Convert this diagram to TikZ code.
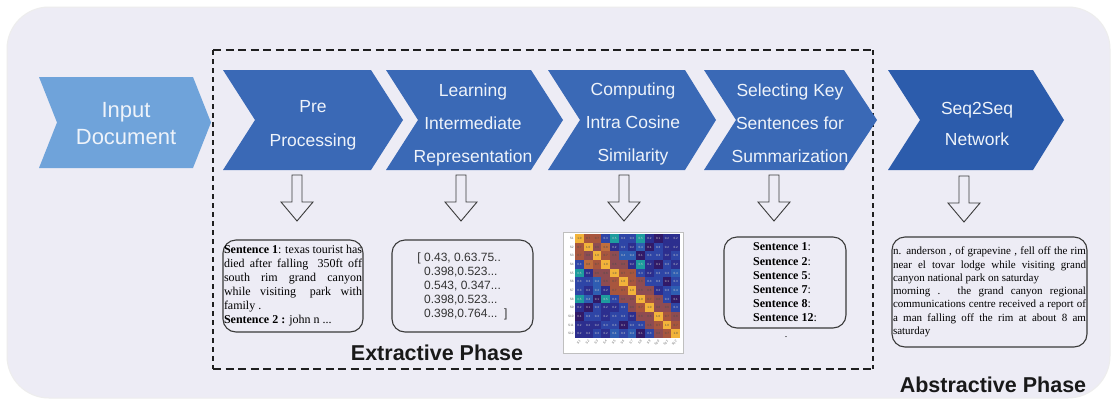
\documentclass[tikz,border=0pt]{standalone}
\usepackage{fontspec}
\newfontfamily\lsans{Liberation Sans}
\newfontfamily\lserif{Liberation Serif}
\definecolor{bgcol}{HTML}{EDECF5}
\definecolor{inputblue}{HTML}{6FA3DA}
\definecolor{chevblue}{HTML}{3A69B6}
\definecolor{seqblue}{HTML}{2C5CAC}
\definecolor{chevtxt}{HTML}{EEF3FA}
\definecolor{edge}{HTML}{3A3A3A}
\definecolor{hm0}{HTML}{2A1250}
\definecolor{hm1}{HTML}{311A68}
\definecolor{hm2}{HTML}{2C2E8E}
\definecolor{hm3}{HTML}{2E45A6}
\definecolor{hm4}{HTML}{2E5DB2}
\definecolor{hm5}{HTML}{1E9C9E}
\definecolor{hm6}{HTML}{8E4C52}
\definecolor{hm7}{HTML}{A8563E}
\definecolor{hm8}{HTML}{C06E3C}
\definecolor{hm9}{HTML}{D88A38}
\definecolor{hm10}{HTML}{F2B33A}
\begin{document}
\begin{tikzpicture}[x=1pt,y=-1pt,
  chevtext/.style={font=\lsans\fontsize{17.5}{33}\selectfont, text=chevtxt, align=center, inner sep=0},
  arrowline/.style={draw=edge, line width=0.9pt, fill=bgcol},
  textbox/.style={draw=edge, line width=1.1pt, rounded corners=13pt, inner sep=0, align=left},
  phase/.style={font=\lsans\bfseries\fontsize{21.5}{24}\selectfont, text=black!90, inner sep=0},
  cellnum/.style={font=\lsans\fontsize{3}{3}\selectfont, inner sep=0},
  ticklab/.style={font=\lsans\fontsize{3.2}{3.2}\selectfont, text=black!60, inner sep=0.6pt},
  pics/downarrow/.style={code={
    \path[arrowline] (-5,0) -- (5,0) -- (5,27) -- (16,27) -- (0,46) -- (-16,27) -- (-5,27) -- cycle;}}
]
\useasboundingbox (0,0) rectangle (1112,400);
\fill[white] (0,0) rectangle (1112,400);
% rounded panel behind everything
\path[fill=bgcol, draw=black!7, line width=1pt, rounded corners=42pt] (7,7) rectangle (1110,398);

% extractive phase frame
\begin{scope}[draw=black!88, line width=1.7pt]
  \draw[dash pattern=on 8pt off 4.5pt] (213,50) -- (873,50);
  \draw[dash pattern=on 8pt off 4.5pt] (213,369) -- (873,369);
  \draw[dash pattern=on 5pt off 4pt] (213,50) -- (213,369);
  \draw[dash pattern=on 5pt off 4pt] (873,50) -- (873,369);
\end{scope}

% process chevrons
\fill[inputblue] (39,77) -- (193,77) -- (211,122.5) -- (193,168) -- (39,168) -- (57,122.5) -- cycle;
\fill[chevblue] (223,70) -- (371,70) -- (403,120) -- (371,170) -- (223,170) -- (255,120) -- cycle;
\fill[chevblue] (386,70) -- (531,70) -- (563,120) -- (531,170) -- (386,170) -- (418,120) -- cycle;
\fill[chevblue] (548,70) -- (685,70) -- (716,120) -- (685,170) -- (548,170) -- (580,120) -- cycle;
\fill[chevblue] (704,70) -- (844,70) -- (877,120) -- (844,170) -- (704,170) -- (736,120) -- cycle;
\fill[seqblue] (888,70) -- (1033,70) -- (1064,120) -- (1033,170) -- (888,170) -- (920,120) -- cycle;

\node[chevtext, font=\lsans\fontsize{22}{27}\selectfont] (input) at (126,123.6) {Input\\Document};
\node[chevtext, font=\lsans\fontsize{17.5}{34}\selectfont] (pre) at (313,125.6) {Pre\\Processing};
\node[chevtext] (learn) at (473,124.6) {Learning\\Intermediate\\Representation};
\node[chevtext] (cosine) at (633,123.5) {Computing\\Intra Cosine\\Similarity};
\node[chevtext] (select) at (790,123.7) {Selecting Key\\Sentences for\\Summarization};
\node[chevtext, font=\lsans\fontsize{17.5}{31}\selectfont] (seq) at (977,124.3) {Seq2Seq\\Network};

% hollow down arrows
\coordinate (a1) at (297,175);
\coordinate (a2) at (461,175);
\coordinate (a3) at (624,175);
\coordinate (a4) at (774,175);
\coordinate (a5) at (964,176);
\foreach \a in {a1,a2,a3,a4,a5} { \pic at (\a) {downarrow}; }

% sentence box
\node[textbox, minimum width=140pt, minimum height=92pt, font=\lserif\fontsize{12}{14}\selectfont] (sents) at (293,286) {%
\makebox[138pt][s]{\textbf{Sentence 1}: texas tourist has}\\
\makebox[138pt][s]{died after falling\hspace{4pt} 350ft off}\\
\makebox[138pt][s]{south rim grand canyon}\\
\makebox[138pt][s]{while visiting\hspace{4pt} park with}\\
family .\\
\textbf{Sentence 2 :} john n ...};

% vector box
\node[textbox, minimum width=141pt, minimum height=92pt, font=\lsans\fontsize{12}{14}\selectfont, text=black!80] (vecs) at (462.5,286) {%
[ 0.43, 0.63.75..\\
\hphantom{[ }0.398,0.523...\\
\hphantom{[ }0.543, 0.347...\\
\hphantom{[ }0.398,0.523...\\
\hphantom{[ }0.398,0.764...\ \ ]};

% similarity heat map
\node[draw=black!25, fill=white, line width=0.8pt, minimum width=120pt, minimum height=121pt, inner sep=0] (sim) at (623,292.5) {};
\foreach \row [count=\i] in {
  {10,7,7,3,5,3,3,5,2,1,2,2},
  {7,10,6,8,2,3,2,4,1,3,2,2},
  {7,6,10,7,6,4,4,1,3,3,2,3},
  {3,8,7,10,6,6,2,5,2,1,3,2},
  {5,2,6,6,10,7,7,3,2,3,3,4},
  {3,3,4,6,7,10,7,6,3,3,1,3},
  {3,2,4,2,7,7,10,6,6,2,3,4},
  {5,4,1,5,3,6,6,10,7,6,3,1},
  {2,1,3,2,2,3,6,7,10,6,6,3},
  {1,3,3,2,3,3,2,6,6,10,7,6},
  {2,2,2,3,3,1,3,3,6,7,10,7},
  {2,2,3,2,4,3,4,1,3,6,7,10}} {
  \foreach \v [count=\j] in \row {
    \ifnum\v>5 \def\tc{black!70}\else\def\tc{white!60!gray}\fi
    \fill[hm\v] ({575+(\j-1)*8.75},{234+(\i-1)*8.67}) rectangle ++(8.75,8.67);
    \node[cellnum, text=\tc] (c\i-\j) at ({575+(\j-0.5)*8.75},{234+(\i-0.5)*8.67}) {\ifnum\v=10 1.0\else 0.\v\fi};
  }
  \node[ticklab, anchor=east] (ry\i) at (574.5,{234+(\i-0.5)*8.67}) {S\i};
  \node[ticklab, rotate=45, anchor=north east] (rx\i) at ({575+(\i-0.5)*8.75},339) {S\i};
}

% selected sentences box
\node[textbox, minimum width=122pt, minimum height=91pt, font=\lserif\fontsize{12}{14.2}\selectfont] (keys) at (785,282.5) {%
\textbf{Sentence 1}:\\
\textbf{Sentence 2}:\\
\textbf{Sentence 5}:\\
\textbf{Sentence 7}:\\
\textbf{Sentence 8}:\\
\textbf{Sentence 12}:};
\node[font=\lserif\fontsize{10}{12}\selectfont, inner sep=0, anchor=base] (stop) at (786,337) {.};

% generated summary box
\node[textbox, minimum width=195pt, minimum height=110pt, font=\lserif\fontsize{11}{13.3}\selectfont] (summary) at (989.5,292) {%
\makebox[193pt][s]{n. anderson , of grapevine , fell off the rim}\\
\makebox[193pt][s]{near el tovar lodge while visiting grand}\\
canyon national park on saturday\\
\makebox[193pt][s]{morning . the grand canyon regional}\\
\makebox[193pt][s]{communications centre received a report of}\\
\makebox[193pt][s]{a man falling off the rim at about 8 am}\\
saturday};

% phase labels
\node[phase, anchor=base] (extr) at (437,360) {Extractive Phase};
\node[phase, anchor=base] (abstr) at (993,392) {Abstractive Phase};
\end{tikzpicture}
\end{document}
